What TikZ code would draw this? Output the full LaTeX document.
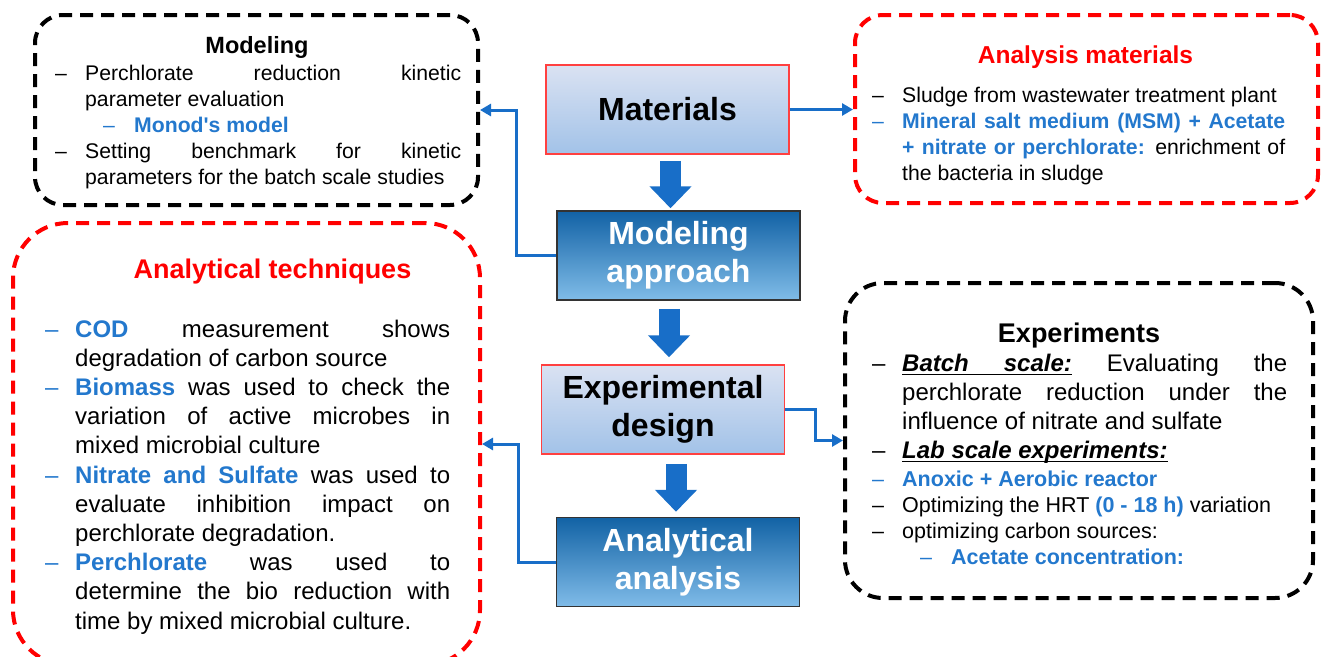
\documentclass[tikz,border=0pt]{standalone}
\usepackage{fontspec}
\setmainfont{Liberation Sans}
\usetikzlibrary{arrows.meta, positioning, calc}
\definecolor{boxred}{RGB}{255,0,0}
\definecolor{flowblue}{RGB}{24,110,200}
\definecolor{txtblue}{RGB}{35,120,205}
\definecolor{lighttop}{RGB}{218,226,242}
\definecolor{lightmid}{RGB}{196,212,236}
\definecolor{lightbot}{RGB}{162,194,232}
\definecolor{darktop}{RGB}{18,98,165}
\definecolor{darkmid}{RGB}{4,74,130}
\definecolor{darkbot}{RGB}{128,188,232}

\hyphenpenalty=10000
\newcommand{\bluebf}[1]{\textcolor{txtblue}{\bfseries #1}}
\newcommand{\ditem}[1][black]{\noindent\hangindent=30pt\hangafter=1\makebox[30pt][l]{\textcolor{#1}{--}}}
\newcommand{\dsub}[1][black]{\noindent\hangindent=79pt\hangafter=1\hspace*{48pt}\makebox[31pt][l]{\textcolor{#1}{--}}}
% underlined words and stretchable underlined gaps
\newcommand{\ulw}[1]{\leavevmode\setbox0=\hbox{#1}\rlap{\vrule height -2.5pt depth 4pt width \wd0}\box0}
\newcommand{\ulsp}{\leaders\hrule height -2.5pt depth 4pt\hskip\fontdimen2\font plus \fontdimen3\font minus \fontdimen4\font}

\tikzset{
  frame/.style={draw=#1, line width=4pt, dash pattern=on 13pt off 8pt, inner sep=0pt},
  stage/.style={minimum width=243pt, minimum height=89pt, align=center, inner sep=0pt,
    line width=1.5pt, font=\fontsize{32}{38}\selectfont\bfseries},
  lightbox/.style={stage, draw=red!75, top color=lighttop, middle color=lightmid, bottom color=lightbot},
  darkbox/.style={stage, draw=black!80, top color=darktop, middle color=darkmid, bottom color=darkbot, text=white},
  flowarrow/.style={draw=flowblue, line width=21pt, -{Triangle[length=22pt, width=41pt]}},
  link/.style={draw=flowblue, line width=3pt, -{Triangle[length=11pt, width=12pt]}},
  boxtitle/.style={anchor=base, inner sep=0pt, font=\fontsize{#1}{#1}\selectfont\bfseries},
  itemtext/.style={anchor=base west, inner sep=0pt, align=justify}
}

\begin{document}
\begin{tikzpicture}[x=1pt, y=-1pt]
\useasboundingbox (0,0) rectangle (1322,656);

% dashed frames
\node[frame=black, minimum width=443pt, minimum height=190pt, rounded corners=28pt] (modbox) at (256.5,110) {};
\node[frame=boxred, minimum width=463pt, minimum height=188pt, rounded corners=28pt] (matbox) at (1086.5,109) {};
\node[frame=boxred, minimum width=467pt, minimum height=442pt, rounded corners=55pt] (techbox) at (246.5,444) {};
\node[frame=black, minimum width=468pt, minimum height=315pt, rounded corners=38pt] (expbox) at (1079,440.5) {};

% central flow
\node[lightbox] (mat) at (667.5,109.5) {Materials};
\node[darkbox] (mod) at (678.5,255.5) {Modeling\\approach};
\node[lightbox] (expd) at (663,409.5) {Experimental\\design};
\node[darkbox] (ana) at (678,562) {Analytical\\analysis};

\draw[flowarrow] ($(mat.south)+(3,6)$) -- ($(mat.south |- mod.north)+(3,-2)$);
\draw[flowarrow] ($(mod.south)+(-9.5,8)$) -- ($(mod.south |- expd.north)+(-9.5,-7)$);
\draw[flowarrow] ($(expd.south)+(13,9)$) -- ($(expd.south |- ana.north)+(13,-5)$);

% side links
\draw[link] (mat.east) -- (mat.east -| matbox.west);
\draw[link] (mod.west) -- ++(-40,0) |- (modbox.east);
\draw[link] (expd.east) -- ++(30,0) |- (expbox.west);
\draw[link] (ana.west) -- ++(-37,0) |- (techbox.east);

% Modeling
\node[boxtitle=23.5] (modtitle) at (257,53) {Modeling};
\node[itemtext, text width=406pt, font=\fontsize{21.2}{26}\selectfont] (modtext) at (55,80) {%
\ditem Perchlorate reduction kinetic\linebreak parameter evaluation\par
\dsub[txtblue]\bluebf{Monod\textquotesingle s model}\par
\ditem Setting benchmark for kinetic\linebreak parameters for the batch scale studies\par};

% Analysis materials
\node[boxtitle=24.5, text=boxred] (mattitle) at (1085.5,63) {Analysis materials};
\node[itemtext, text width=413pt, font=\fontsize{21.2}{26}\selectfont] (mattext) at (872,102) {%
\ditem Sludge from wastewater treatment plant\par
\ditem[txtblue]\bluebf{Mineral salt medium (MSM) + Acetate}\linebreak
\bluebf{+ nitrate or perchlorate:} enrichment of\linebreak the bacteria in sludge\par};

% Analytical techniques
\node[boxtitle=27, text=boxred] (techtitle) at (272.5,278) {Analytical techniques};
\node[itemtext, text width=405pt, font=\fontsize{24}{29.2}\selectfont] (techtext) at (45,337) {%
\ditem[txtblue]\bluebf{COD} measurement shows\linebreak degradation of carbon source\par
\ditem[txtblue]\bluebf{Biomass} was used to check the\linebreak variation of active microbes in\linebreak mixed microbial culture\par
\ditem[txtblue]\bluebf{Nitrate and Sulfate} was used to\linebreak evaluate inhibition impact on\linebreak perchlorate degradation.\par
\ditem[txtblue]\bluebf{Perchlorate} was used to\linebreak determine the bio reduction with\linebreak time by mixed microbial culture.\par};

% Experiments
\node[boxtitle=27] (exptitle) at (1079,342) {Experiments};
\node[itemtext, text width=415pt, font=\fontsize{24}{29}\selectfont] (exptext) at (872,371) {%
\ditem{\bfseries\itshape\ulw{Batch}\ulsp\ulw{scale:}} Evaluating the\linebreak perchlorate reduction under the\linebreak influence of nitrate and sulfate\par
\ditem{\bfseries\itshape\ulw{Lab}\ulsp\ulw{scale}\ulsp\ulw{experiments:}}\par
\fontsize{21.5}{26}\selectfont\vspace{2pt}
\ditem[txtblue]\bluebf{Anoxic + Aerobic reactor}\par
\ditem Optimizing the HRT \bluebf{(0 - 18 h)} variation\par
\ditem optimizing carbon sources:\par
\dsub[txtblue]\bluebf{Acetate concentration:}\par};
\end{tikzpicture}
\end{document}
